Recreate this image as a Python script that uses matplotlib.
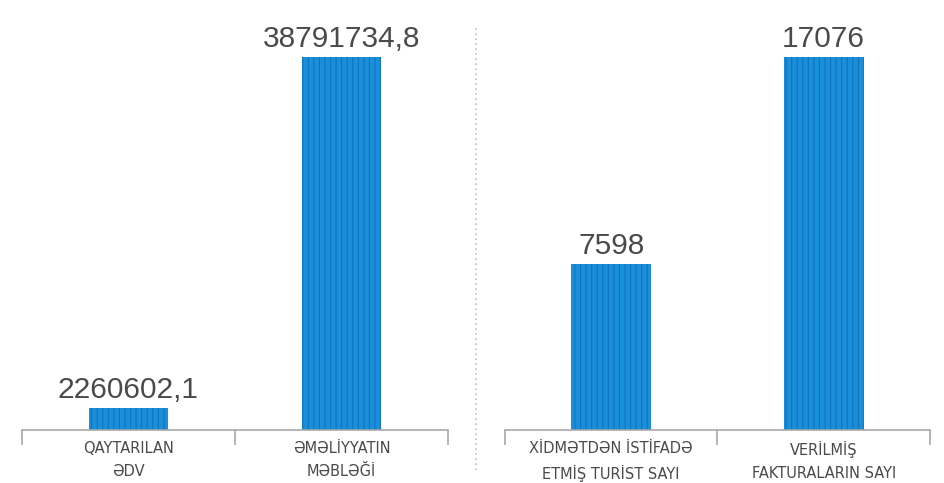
import matplotlib
matplotlib.use("Agg")
import numpy as np
from matplotlib import pyplot as plt
from matplotlib.lines import Line2D

# =============================================================================
# data
# =============================================================================

left_labels = ["QAYTARILAN\nƏDV", "ƏMƏLİYYATIN\nMƏBLƏĞİ"]
left_values = [2260602.1, 38791734.8]
left_text = ["2260602,1", "38791734,8"]

right_labels = ["XİDMƏTDƏN İSTİFADƏ\nETMİŞ TURİST SAYI", "VERİLMİŞ\nFAKTURALARIN SAYI"]
right_values = [7598, 17076]
right_text = ["7598", "17076"]

BAR_COLOR = "#1a8ed8"
STRIPE_COLOR = "#0d74bd"
AXIS_COLOR = "#a8a8a8"
TEXT_COLOR = "#4a4a4a"

plt.rcParams["font.family"] = ["Liberation Sans", "DejaVu Sans"]
plt.rcParams["hatch.linewidth"] = 0.8


def bar_panel(ax, labels, values, texts):
    """
    one panel of two striped bars
    """
    x = np.arange(len(values))
    ax.bar(x, values, width=0.375, color=BAR_COLOR, edgecolor=STRIPE_COLOR,
           linewidth=0, hatch="|||")
    for xi, v, t in zip(x, values, texts):
        ax.annotate(t, (xi, v), xytext=(0, 3), textcoords="offset points",
                    ha="center", va="bottom", fontsize=21.5, color=TEXT_COLOR)

    ax.set_xlim(-0.5, len(values) - 0.5)
    ax.set_ylim(0, max(values) * 1.099)
    for s in ["top", "left", "right"]:
        ax.spines[s].set_visible(False)
    ax.spines["bottom"].set_color(AXIS_COLOR)
    ax.spines["bottom"].set_linewidth(1.2)
    ax.set_yticks([])

    ax.set_xticks(x)
    ax.set_xticklabels(labels, fontsize=10.5, color=TEXT_COLOR, linespacing=1.65,
                       family="DejaVu Sans")
    ax.tick_params(axis="x", which="major", length=0, pad=8)
    ax.set_xticks(np.arange(len(values) + 1) - 0.5, minor=True)
    ax.tick_params(axis="x", which="minor", length=11, width=1.2,
                   color=AXIS_COLOR, direction="out")


fig = plt.figure(figsize=(9.45, 4.83), dpi=100)
ax1 = fig.add_axes([22 / 945, 53 / 483, 426 / 945, 410 / 483])
ax2 = fig.add_axes([505 / 945, 53 / 483, 425 / 945, 410 / 483])

bar_panel(ax1, left_labels, left_values, left_text)
bar_panel(ax2, right_labels, right_values, right_text)

# dotted divider between the panels
fig.add_artist(Line2D([476 / 945, 476 / 945], [13 / 483, 458 / 483],
                      transform=fig.transFigure, color="#c0c0c0",
                      linestyle=(0, (1, 2)), linewidth=1.2))

fig.savefig("out.png", dpi=100)
